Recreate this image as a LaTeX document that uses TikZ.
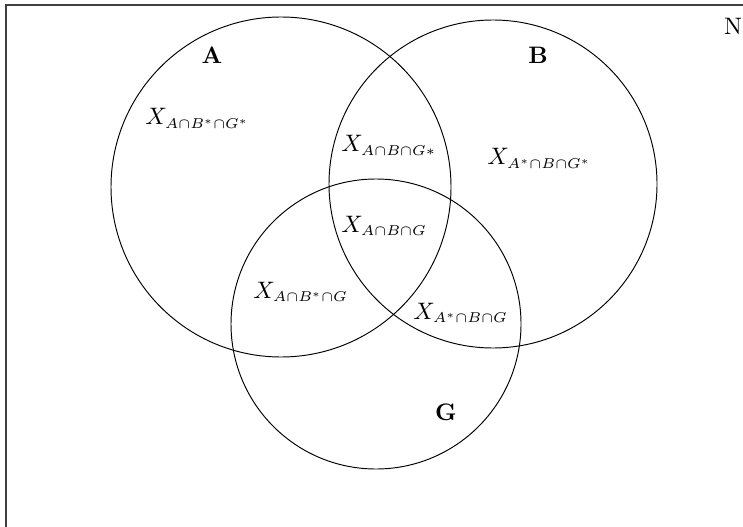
\RequirePackage{fix-cm}
\documentclass[tikz,border=0pt]{standalone}
\DeclareMathSizes{10}{10}{6}{4.5}
\usetikzlibrary{positioning}
\definecolor{cframe}{HTML}{404040}
\tikzset{
  every picture/.style={line width=0.4pt},
  setname/.style={font=\bfseries, inner sep=0pt, anchor=base},
  region/.style={inner sep=0pt, anchor=base west},
  frame/.style={draw=cframe, line width=0.85pt},
}

\begin{document}
\begin{tikzpicture}[x=0.42pt, y=-0.42pt]
  \useasboundingbox (0,0) rectangle (743,527);
  \clip (0,0) rectangle (743,527);
  \draw[frame] (6,5) rectangle (760,545);
  % the three sets
  \draw (281,187) circle (170);
  \draw (493,184) circle (164);
  \draw (376,324) circle (145);
  \node[setname] (nameA) at (212,64) {A};
  \node[setname] (nameB) at (538,64) {B};
  \node[setname] (nameG) at (446,420) {G};
  \node[inner sep=0pt, anchor=base] (universe) at (733,35) {N};
  % regions
  \node[region] (rABsGs) at (145,125) {$X_{A\cap B^*\cap G^*}$};
  \node[region] (rABGs) at (341,152) {$X_{A\cap B\cap G*}$};
  \node[region] (rAsBGs) at (487,165) {$X_{A^*\cap B\cap G^*}$};
  \node[region] (rABG) at (341,232) {$X_{A\cap B\cap G}$};
  \node[region] (rABsG) at (253,298) {$X_{A\cap B^*\cap G}$};
  \node[region] (rAsBG) at (413,319) {$X_{A^*\cap B\cap G}$};
\end{tikzpicture}
\end{document}
